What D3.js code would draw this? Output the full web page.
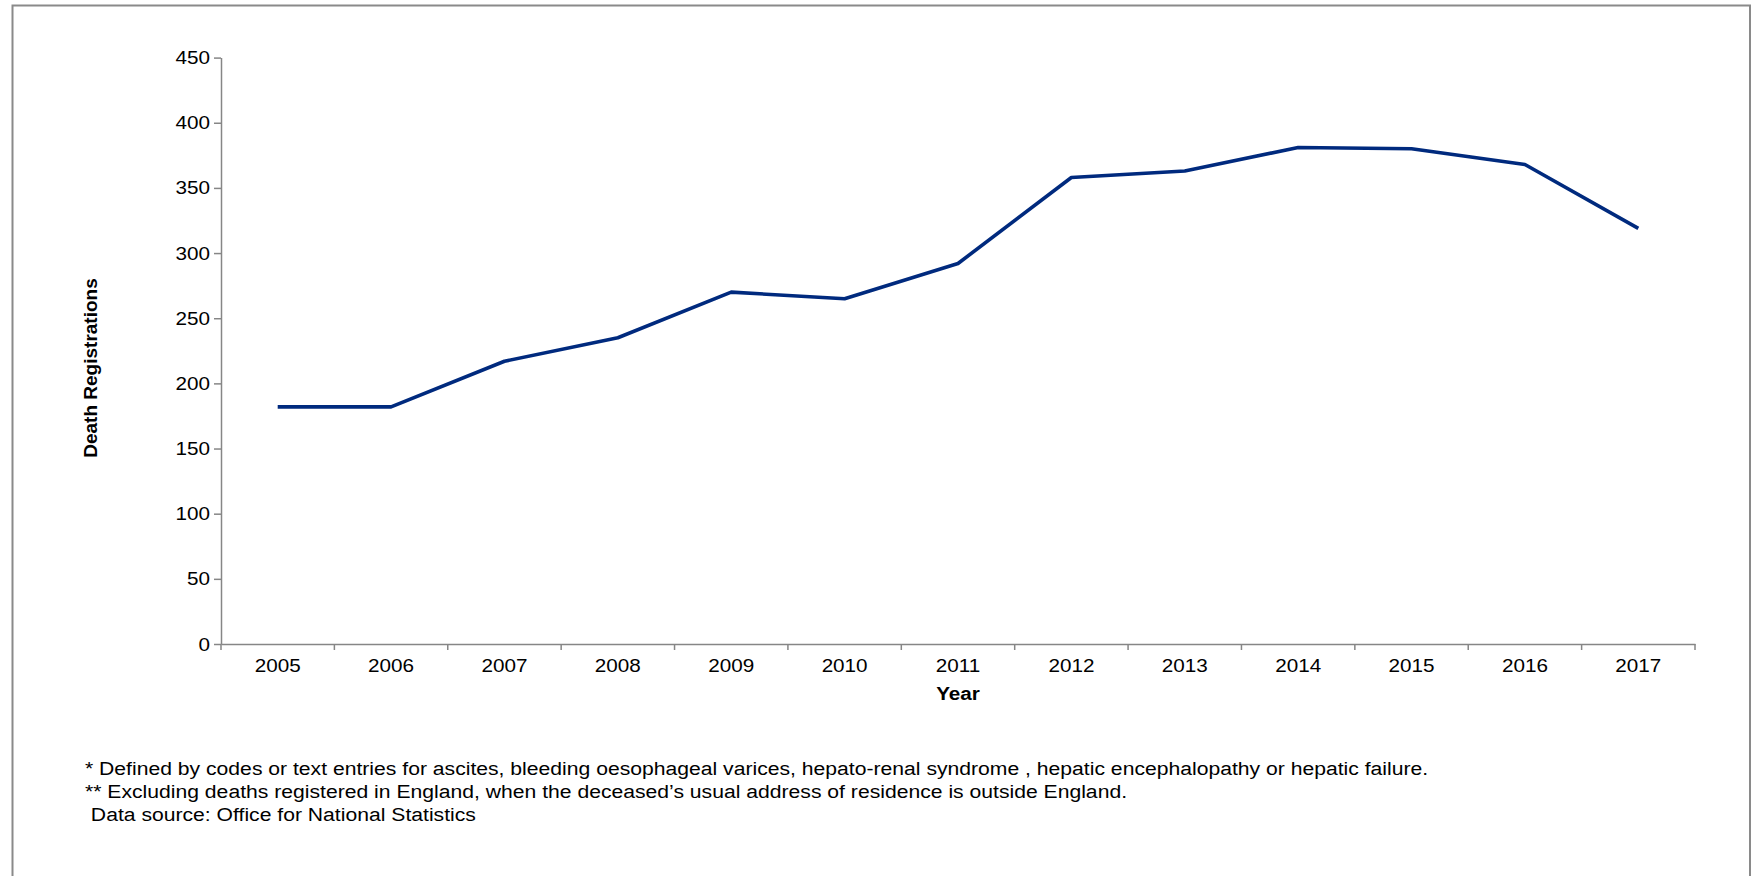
<!DOCTYPE html>
<html>
<head>
<meta charset="utf-8">
<script src="https://cdn.jsdelivr.net/npm/d3@7"></script>
<style>
  html, body { margin: 0; padding: 0; background: #fff; }
  svg { display: block; }
  text { font-family: "Liberation Sans", Arial, sans-serif; fill: #000; }
</style>
</head>
<body>
<svg id="chart" width="1756" height="876"></svg>
<script>
const years = ["2005","2006","2007","2008","2009","2010","2011","2012","2013","2014","2015","2016","2017"];
const deaths = [182, 182, 217, 235, 270, 265, 292, 358, 363, 381, 380, 368, 319];
const yTicks = [0, 50, 100, 150, 200, 250, 300, 350, 400, 450];
const xTitle = "Year";
const yTitle = "Death Registrations";
const notes = [
  "* Defined by codes or text entries for ascites, bleeding oesophageal varices, hepato-renal syndrome , hepatic encephalopathy or hepatic failure.",
  "** Excluding deaths registered in England, when the deceased\u2019s usual address of residence is outside England.",
  " Data source: Office for National Statistics"
];

const svg = d3.select("#chart");
const plotL = 221, plotR = 1695, plotT = 57.6, plotB = 644;
const SX = 1.1;
const STRETCH = `scale(${SX},1)`;
const FS = 18.8;
const NSX = 1.125;

// outer frame (no visible bottom edge)
svg.append("rect")
  .attr("x", 12.5).attr("y", 5.5)
  .attr("width", 1750 - 12.5).attr("height", 900)
  .attr("fill", "none").attr("stroke", "#8a8a8a").attr("stroke-width", 2);

const x = d3.scaleBand().domain(years).range([plotL, plotR]).padding(0);
const y = d3.scaleLinear().domain([0, 450]).range([plotB, plotT]);

// y axis
const gy = svg.append("g").attr("transform", `translate(${plotL},0)`)
  .call(d3.axisLeft(y).tickValues(yTicks).tickSize(7).tickPadding(4).tickSizeOuter(0));
gy.select(".domain").attr("stroke", "#868686").attr("stroke-width", 1.5);
gy.selectAll(".tick line").attr("stroke", "#868686").attr("stroke-width", 1.5);
gy.selectAll(".tick text")
  .attr("font-size", FS + "px")
  .attr("font-family", "Liberation Sans, Arial, sans-serif")
  .attr("fill", "#000")
  .each(function() {
    const t = d3.select(this);
    const xx = +t.attr("x");
    t.attr("x", xx / SX).attr("transform", STRETCH);
  });

// x axis with ticks at category boundaries
const gx = svg.append("g").attr("transform", `translate(0,${plotB})`)
  .call(d3.axisBottom(x).tickSize(0).tickPadding(15));
gx.select(".domain").attr("stroke", "#868686").attr("stroke-width", 1.5);
gx.selectAll(".tick text")
  .attr("font-size", FS + "px")
  .attr("font-family", "Liberation Sans, Arial, sans-serif")
  .attr("fill", "#000")
  .attr("transform", STRETCH);
const bounds = years.map(d => x(d)).concat([x(years[years.length - 1]) + x.bandwidth()]);
gx.selectAll("line.bnd").data(bounds).enter().append("line")
  .attr("class", "bnd")
  .attr("x1", d => d).attr("x2", d => d)
  .attr("y1", 0).attr("y2", 6)
  .attr("stroke", "#868686").attr("stroke-width", 1.5);

// line
const line = d3.line()
  .x((d, i) => x(years[i]) + x.bandwidth() / 2)
  .y(d => y(d));
svg.append("path")
  .datum(deaths)
  .attr("d", line)
  .attr("fill", "none")
  .attr("stroke", "#002A7E")
  .attr("stroke-width", 3.6)
  .attr("stroke-linejoin", "round");

// axis titles
svg.append("text")
  .attr("transform", `translate(${(plotL + plotR) / 2},700) ${STRETCH}`)
  .attr("text-anchor", "middle")
  .attr("font-size", FS + "px")
  .attr("font-weight", "bold")
  .text(xTitle);

svg.append("text")
  .attr("transform", `translate(97,368) rotate(-90)`)
  .attr("text-anchor", "middle")
  .attr("font-size", "19px")
  .attr("font-weight", "bold")
  .text(yTitle);

// footnotes
svg.selectAll("text.note").data(notes).enter().append("text")
  .attr("class", "note")
  .attr("transform", (d, i) => `translate(85,${775 + i * 23}) scale(${NSX},1)`)
  .attr("font-size", FS + "px")
  .attr("xml:space", "preserve")
  .style("white-space", "pre")
  .text(d => d);
</script>
</body>
</html>
